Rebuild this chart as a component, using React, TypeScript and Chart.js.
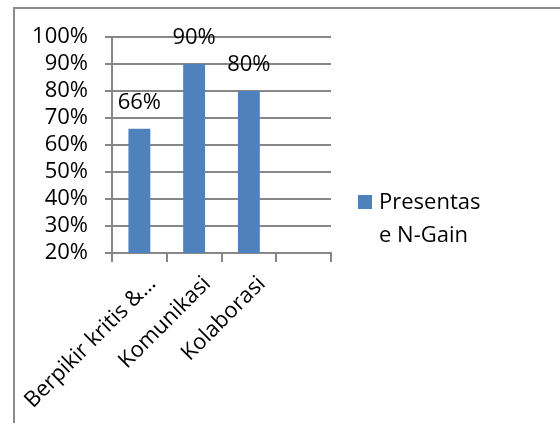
import React, { useEffect, useRef } from "react";
import { Chart, registerables } from "chart.js";

Chart.register(...registerables);

const categories = ["Berpikir kritis &…", "Komunikasi", "Kolaborasi", ""];
const seriesName = "Presentase N-Gain";
const legendLines = ["Presentas", "e N-Gain"];
const values: (number | null)[] = [66, 90, 80, null];
const yMin = 20;
const yMax = 100;
const yStep = 10;

const FONT = "'Open Sans', 'Liberation Sans', sans-serif";
const FS = 22;
const BAR = "#4F81BD";
const GRID = "#878787";

export default function App() {
  const ref = useRef<HTMLCanvasElement | null>(null);

  useEffect(() => {
    if (!ref.current) return;

    const framePlugin = {
      id: "frame",
      beforeDraw(chart: any) {
        const ctx = chart.ctx;
        ctx.save();
        ctx.fillStyle = "#ffffff";
        ctx.fillRect(0, 0, chart.width, chart.height);
        ctx.strokeStyle = "#8c8c8c";
        ctx.lineWidth = 2;
        ctx.beginPath();
        ctx.moveTo(14, chart.height + 5);
        ctx.lineTo(14, 8);
        ctx.lineTo(chart.width + 5, 8);
        ctx.stroke();
        ctx.restore();
      },
    };

    const labelsPlugin = {
      id: "valueLabels",
      afterDatasetsDraw(chart: any) {
        const ctx = chart.ctx;
        const meta = chart.getDatasetMeta(0);
        ctx.save();
        ctx.font = `${FS}px ${FONT}`;
        ctx.fillStyle = "#000";
        ctx.textAlign = "center";
        ctx.textBaseline = "middle";
        meta.data.forEach((el: any, i: number) => {
          const v = values[i];
          if (v == null) return;
          ctx.fillText(`${v}%`, el.x, el.y - 26);
        });
        ctx.restore();
      },
    };

    const legendPlugin = {
      id: "customLegend",
      afterDraw(chart: any) {
        const ctx = chart.ctx;
        ctx.save();
        ctx.fillStyle = BAR;
        ctx.fillRect(358, 195, 14, 14);
        ctx.font = `${FS}px ${FONT}`;
        ctx.fillStyle = "#000";
        ctx.textAlign = "left";
        ctx.textBaseline = "middle";
        legendLines.forEach((line, i) => {
          ctx.fillText(line, 379, 203 + i * 33);
        });
        ctx.restore();
      },
    };

    const chart = new Chart(ref.current, {
      type: "bar",
      data: {
        labels: categories,
        datasets: [
          {
            label: seriesName,
            data: values,
            backgroundColor: BAR,
            borderWidth: 0,
            barPercentage: 0.4,
            categoryPercentage: 1,
          },
        ],
      },
      options: {
        responsive: false,
        animation: false,
        devicePixelRatio: 1,
        layout: { padding: { left: 14, top: 37, right: 229, bottom: 0 } },
        plugins: {
          legend: { display: false },
          tooltip: { enabled: false },
        },
        scales: {
          x: {
            offset: true,
            grid: {
              display: true,
              offset: true,
              drawOnChartArea: false,
              drawTicks: true,
              tickLength: 9,
              color: GRID,
              lineWidth: 2,
            },
            border: { display: true, color: GRID, width: 2 },
            ticks: {
              autoSkip: false,
              minRotation: 45,
              maxRotation: 45,
              padding: 9,
              labelOffset: 13,
              color: "#000",
              font: { family: FONT, size: FS },
            },
            afterFit(scale: any) {
              scale.height = 170;
              scale.paddingLeft = 0;
              scale.paddingRight = 0;
            },
          },
          y: {
            min: yMin,
            max: yMax,
            grid: {
              display: true,
              drawTicks: true,
              tickLength: 7,
              color: GRID,
              lineWidth: 2,
            },
            border: { display: true, color: GRID, width: 2 },
            ticks: {
              autoSkip: false,
              stepSize: yStep,
              padding: 17,
              color: "#000",
              font: { family: FONT, size: FS },
              callback: (v: any) => `${v}%`,
            },
            afterFit(scale: any) {
              scale.width = 98;
              scale.paddingTop = 0;
              scale.paddingBottom = 0;
            },
          },
        },
      },
      plugins: [framePlugin, labelsPlugin, legendPlugin],
    });

    return () => chart.destroy();
  }, []);

  return (
    <div style={{ position: "absolute", left: 0, top: 0 }}>
      <canvas ref={ref} width={560} height={423} style={{ display: "block" }} />
    </div>
  );
}
